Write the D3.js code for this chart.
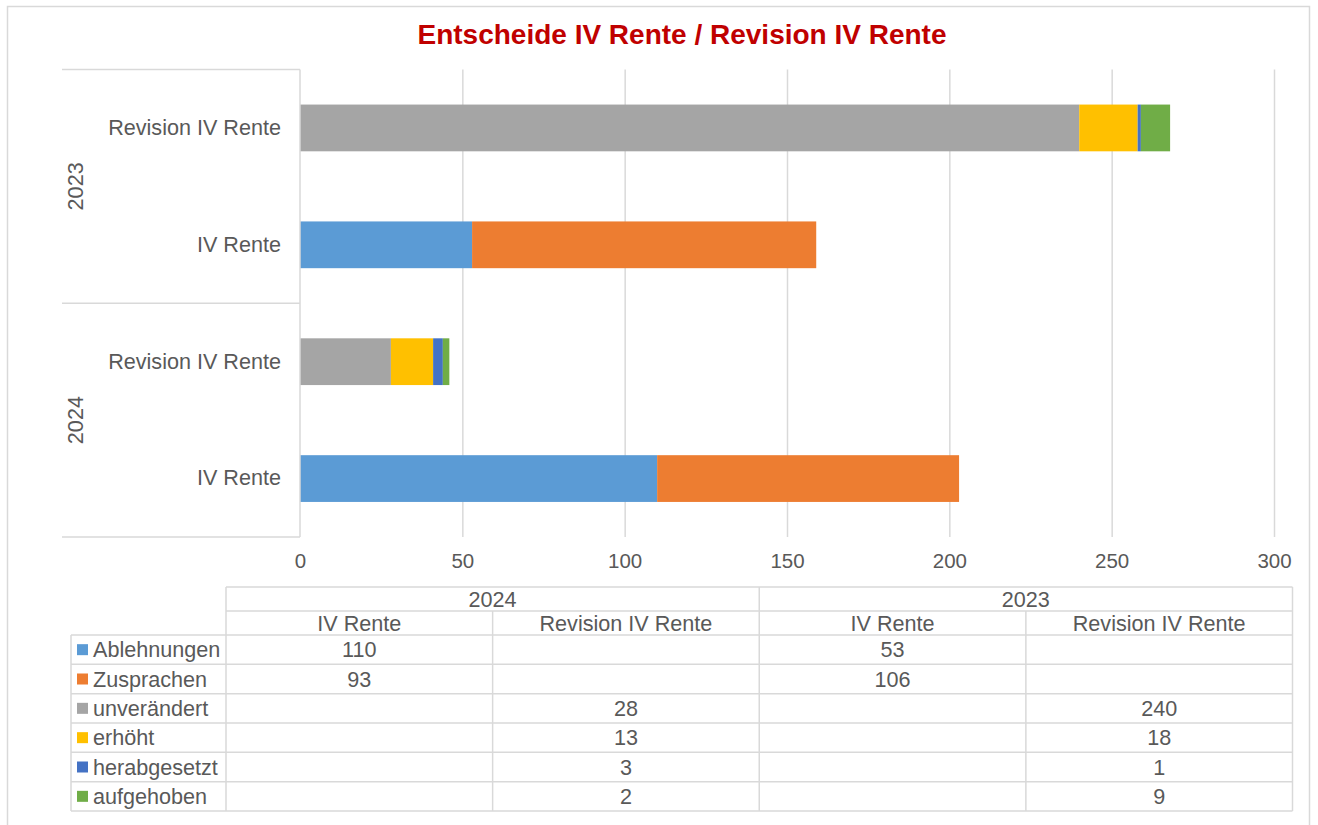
<!DOCTYPE html>
<html>
<head>
<meta charset="utf-8">
<script src="https://cdn.jsdelivr.net/npm/d3@7"></script>
<style>
  body { margin: 0; background: #fff; }
  svg text { font-family: "Liberation Sans", Arial, sans-serif; fill: #595959; }
</style>
</head>
<body>
<svg id="chart" width="1318" height="825"></svg>
<script>
// categories in table order (first = bottom of chart)
var years = ["2024", "2023"];
var types = ["IV Rente", "Revision IV Rente"];
var categories = ["2024|IV Rente", "2024|Revision IV Rente", "2023|IV Rente", "2023|Revision IV Rente"];

var seriesNames = ["Ablehnungen", "Zusprachen", "unverändert", "erhöht", "herabgesetzt", "aufgehoben"];
var seriesColors = ["#5B9BD5", "#ED7D31", "#A5A5A5", "#FFC000", "#4472C4", "#70AD47"];

var ablehnungen  = [110, null, 53, null];
var zusprachen   = [93, null, 106, null];
var unveraendert = [null, 28, null, 240];
var erhoeht      = [null, 13, null, 18];
var herabgesetzt = [null, 3, null, 1];
var aufgehoben   = [null, 2, null, 9];
var seriesValues = [ablehnungen, zusprachen, unveraendert, erhoeht, herabgesetzt, aufgehoben];

var xTicks = [0, 50, 100, 150, 200, 250, 300];

var labelSize = "21.6px";

var svg = d3.select("#chart");

// outer chart frame
svg.append("rect")
    .attr("x", 7.5).attr("y", 6.5)
    .attr("width", 1302).attr("height", 830)
    .attr("fill", "none")
    .attr("stroke", "#D9D9D9")
    .attr("stroke-width", 1.5);

svg.append("text")
    .attr("x", 682)
    .attr("y", 44)
    .attr("text-anchor", "middle")
    .style("font-size", "28px")
    .style("font-weight", "bold")
    .style("fill", "#C00000")
    .text("Entscheide IV Rente / Revision IV Rente");

var plotTop = 69.5, plotBottom = 537, plotLeft = 300, plotRight = 1274;

var x = d3.scaleLinear().domain([0, 300]).range([plotLeft, plotRight]);

var y = d3.scaleBand()
    .domain(categories.slice().reverse())
    .range([plotTop, plotBottom])
    .paddingInner(0.6)
    .paddingOuter(0.3);

// gridlines
svg.append("g")
    .attr("class", "grid")
    .attr("transform", "translate(0," + plotBottom + ")")
    .call(d3.axisBottom(x).tickValues(xTicks.slice(1)).tickSize(-(plotBottom - plotTop)).tickFormat(""))
    .call(function(g) { g.select(".domain").remove(); })
  .selectAll("line")
    .attr("stroke", "#D9D9D9")
    .attr("stroke-width", 1.5);

// x tick labels
svg.append("g")
    .attr("class", "x axis")
    .attr("transform", "translate(0," + plotBottom + ")")
    .call(d3.axisBottom(x).tickValues(xTicks).tickSize(0).tickPadding(16))
    .call(function(g) { g.select(".domain").remove(); })
  .selectAll("text")
    .style("font-size", "20.5px")
    .style("fill", "#595959")
    .style("font-family", "Liberation Sans, Arial, sans-serif");

// stacked bars
var rows = categories.map(function(c, i) {
  var r = { key: c };
  seriesNames.forEach(function(s, j) { r[s] = seriesValues[j][i] || 0; });
  return r;
});
var stacked = d3.stack().keys(seriesNames)(rows);

svg.append("g").selectAll("g")
    .data(stacked)
    .enter()
  .append("g")
    .attr("fill", function(d, i) { return seriesColors[i]; })
  .selectAll("rect")
    .data(function(d) { return d; })
    .enter()
  .append("rect")
    .attr("x", function(d) { return x(d[0]); })
    .attr("width", function(d) { return x(d[1]) - x(d[0]); })
    .attr("y", function(d) { return y(d.data.key); })
    .attr("height", y.bandwidth());

// category axis (left)
var yAxis = svg.append("g")
    .attr("class", "y axis")
    .attr("transform", "translate(" + plotLeft + ",0)")
    .call(d3.axisLeft(y).tickSize(0).tickPadding(19)
      .tickFormat(function(d) { return d.split("|")[1]; }));
yAxis.select(".domain").remove();
yAxis.selectAll("text")
    .style("font-size", labelSize)
    .style("fill", "#595959")
    .style("font-family", "Liberation Sans, Arial, sans-serif");

var axisColor = "#D9D9D9";
svg.append("line")
    .attr("x1", plotLeft).attr("x2", plotLeft)
    .attr("y1", plotTop).attr("y2", plotBottom)
    .attr("stroke", axisColor).attr("stroke-width", 1.5);

var groupEdges = [plotTop, (plotTop + plotBottom) / 2, plotBottom];
svg.selectAll(".groupline")
    .data(groupEdges)
    .enter()
  .append("line")
    .attr("class", "groupline")
    .attr("x1", 62).attr("x2", plotLeft)
    .attr("y1", function(d) { return d; })
    .attr("y2", function(d) { return d; })
    .attr("stroke", axisColor).attr("stroke-width", 1.5);

years.forEach(function(yr) {
  var c1 = y(yr + "|IV Rente") + y.bandwidth() / 2,
      c2 = y(yr + "|Revision IV Rente") + y.bandwidth() / 2,
      cy = (c1 + c2) / 2;
  svg.append("text")
      .attr("transform", "translate(75," + cy + ") rotate(-90)")
      .attr("text-anchor", "middle")
      .attr("dy", "0.35em")
      .style("font-size", labelSize)
      .text(yr);
});

// data table
var tLeft = 226, tRight = 1292.5, legLeft = 71;
var col = d3.scaleBand().domain(categories).range([tLeft, tRight]);
var rowTop = 587, headH = 24, subH = 24;
var dataTop = rowTop + headH + subH;
var rowH = (811 - dataTop) / seriesNames.length;
var tbl = svg.append("g").attr("class", "table");

function hline(x1, x2, yy) {
  tbl.append("line").attr("x1", x1).attr("x2", x2).attr("y1", yy).attr("y2", yy)
      .attr("stroke", axisColor).attr("stroke-width", 1.5);
}
function vline(xx, y1, y2) {
  tbl.append("line").attr("x1", xx).attr("x2", xx).attr("y1", y1).attr("y2", y2)
      .attr("stroke", axisColor).attr("stroke-width", 1.5);
}

hline(tLeft, tRight, rowTop);
hline(tLeft, tRight, rowTop + headH);
seriesNames.forEach(function(s, i) {
  hline(legLeft, tRight, dataTop + i * rowH);
});
hline(legLeft, tRight, 811);
vline(legLeft, dataTop, 811);
vline(tLeft, rowTop, 811);
vline(col("2023|IV Rente"), rowTop, 811);
vline(col("2024|Revision IV Rente"), rowTop + headH, 811);
vline(col("2023|Revision IV Rente"), rowTop + headH, 811);
vline(tRight, rowTop, 811);

years.forEach(function(yr) {
  var cx = col(yr + "|IV Rente") + col.bandwidth();
  tbl.append("text")
      .attr("x", cx).attr("y", rowTop + headH / 2)
      .attr("dy", "0.35em").attr("text-anchor", "middle")
      .style("font-size", labelSize)
      .text(yr);
});

categories.forEach(function(c) {
  tbl.append("text")
      .attr("x", col(c) + col.bandwidth() / 2).attr("y", rowTop + headH + subH / 2)
      .attr("dy", "0.35em").attr("text-anchor", "middle")
      .style("font-size", labelSize)
      .text(c.split("|")[1]);
});

seriesNames.forEach(function(s, i) {
  var cy = dataTop + i * rowH + rowH / 2;
  tbl.append("rect")
      .attr("x", 77).attr("y", cy - 5.5)
      .attr("width", 11).attr("height", 11)
      .attr("fill", seriesColors[i]);
  tbl.append("text")
      .attr("x", 93).attr("y", cy)
      .attr("dy", "0.35em")
      .style("font-size", labelSize)
      .text(s);
  categories.forEach(function(c, k) {
    var v = seriesValues[i][k];
    if (v == null) return;
    tbl.append("text")
        .attr("x", col(c) + col.bandwidth() / 2).attr("y", cy)
        .attr("dy", "0.35em").attr("text-anchor", "middle")
        .style("font-size", labelSize)
        .text(v);
  });
});
</script>
</body>
</html>
